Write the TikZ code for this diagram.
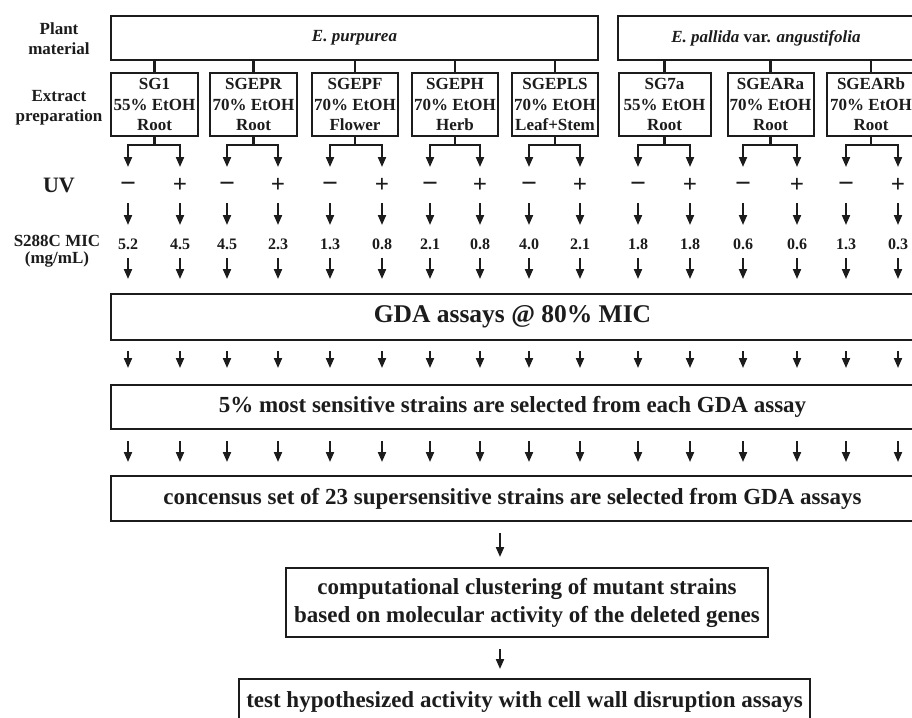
\documentclass[tikz,border=0pt]{standalone}
\usepackage{fontspec}
\setmainfont{Liberation Serif}
\usetikzlibrary{arrows.meta}
\definecolor{ink}{RGB}{28,28,28}
\newcommand\uvminus{{\fontsize{28}{28}\selectfont −}}
\newcommand\uvplus{{\fontsize{25}{25}\selectfont +}}
\begin{document}
\begin{tikzpicture}[x=1pt,y=-1pt,
  every node/.style={text=ink},
  frame/.style={draw=ink,line width=2pt,inner sep=0pt},
  ln/.style={draw=ink,line width=2.1pt},
  arr/.style={draw=ink,line width=2pt,-{Triangle[length=10pt,width=8pt]}},
  lab/.style={font=\fontsize{17}{20}\selectfont\bfseries,align=center,inner sep=0pt},
  exbox/.style={frame,minimum height=63pt,font=\fontsize{17}{20.5}\selectfont\bfseries,align=center},
  plantbox/.style={frame,minimum height=44pt,font=\fontsize{17}{20}\selectfont\bfseries},
  widebox/.style={frame,minimum width=803pt,font=\fontsize{23}{28}\selectfont\bfseries,align=center},
  sign/.style={inner sep=0pt,anchor=base,font=\bfseries},
  micval/.style={inner sep=0pt,anchor=base,font=\fontsize{16}{16}\selectfont\bfseries},
]
\useasboundingbox (0,0) rectangle (912,717);
\fill[white] (0,0) rectangle (912,717);
\clip (0,0) rectangle (912,717);

% row labels
\node[lab] (plantlab) at (59,39) {Plant\\material};
\node[lab] (extlab) at (59,107.5) {Extract\\preparation};
\node[lab,font=\fontsize{22}{22}\selectfont\bfseries] (uvlab) at (59,185) {UV};
\node[lab,font=\fontsize{17}{16.5}\selectfont\bfseries] (miclab) at (57,251) {S288C MIC\\(mg/mL)};

% plant material boxes
\node[plantbox,minimum width=487pt] (pur) at (354.5,38) {\itshape E. purpurea};
\node[plantbox,minimum width=296pt] (pal) at (766,38) {\textit{E. pallida} var. \textit{angustifolia}};

% extract boxes
\foreach \n/\cx/\w/\lbl/\pct/\prt/\src in {
  1/154.5/87/SG1/55/Root/pur,
  2/253.5/87/SGEPR/70/Root/pur,
  3/355/86/SGEPF/70/Flower/pur,
  4/455/86/SGEPH/70/Herb/pur,
  5/555/86/SGEPLS/70/Leaf+Stem/pur,
  6/664.5/92/SG7a/55/Root/pal,
  7/770.5/86/SGEARa/70/Root/pal,
  8/871/88/SGEARb/70/Root/pal} {
  \node[exbox,minimum width=\w pt] (ex\n) at (\cx,104.5) {\lbl\\\pct\% EtOH\\\prt};
  \draw[ln] (ex\n.north) -- (ex\n.north |- \src.south);
}

% wide boxes
\node[widebox,minimum height=46pt,font=\fontsize{25.5}{28}\selectfont\bfseries] (gda) at (512.5,317) {GDA assays @ 80\% MIC};
\node[widebox,minimum height=44pt] (sel) at (512.5,407) {5\% most sensitive strains are selected from each GDA assay};
\node[widebox,minimum height=45pt] (cons) at (512.5,498.5) {concensus set of 23 supersensitive strains are selected from GDA assays};
\node[frame,minimum width=482pt,minimum height=69pt,align=center,font=\fontsize{23}{28}\selectfont\bfseries] (comp) at (527,602.5) {computational clustering of mutant strains\\based on molecular activity of the deleted genes};
\node[frame,minimum width=571pt,minimum height=46pt,font=\fontsize{23}{28}\selectfont\bfseries] (test) at (524.5,702) {test hypothesized activity with cell wall disruption assays};

% columns
\foreach \x/\s/\v [count=\i] in {128/\uvminus/5.2, 180/\uvplus/4.5, 227/\uvminus/4.5, 278/\uvplus/2.3, 330/\uvminus/1.3, 382/\uvplus/0.8, 430/\uvminus/2.1, 480/\uvplus/0.8, 529/\uvminus/4.0, 580/\uvplus/2.1, 638/\uvminus/1.8, 690/\uvplus/1.8, 743/\uvminus/0.6, 797/\uvplus/0.6, 846/\uvminus/1.3, 898/\uvplus/0.3} {
  \coordinate (t\i) at (\x,167);
  \node[sign] (s\i) at (\x,192) {\s};
  \coordinate (u\i) at (\x,203);
  \coordinate (w\i) at (\x,225);
  \draw[arr] (u\i) -- (w\i);
  \node[micval] (v\i) at (\x,249) {\v};
  \coordinate (g\i) at (\x,258);
  \draw[arr,shorten >=14pt] (g\i) -- (g\i |- gda.north);
  \draw[arr,shorten <=10pt,shorten >=16pt] (g\i |- gda.south) -- (g\i |- sel.north);
  \draw[arr,shorten <=11pt,shorten >=13pt] (g\i |- sel.south) -- (g\i |- cons.north);
}

% branches from extract boxes to UV columns
\foreach \n in {1,...,8} {
  \pgfmathtruncatemacro\Lc{2*\n-1}
  \pgfmathtruncatemacro\Rc{2*\n}
  \draw[ln] (ex\n.south) -- ++(0,8) coordinate (m\n);
  \draw[arr] (m\n) -| (t\Lc);
  \draw[arr] (m\n) -| (t\Rc);
}

% lower flow
\coordinate (mid) at (500,0);
\draw[arr,shorten <=11pt,shorten >=10pt] (cons.south -| mid) -- (comp.north -| mid);
\draw[arr,shorten <=11pt,shorten >=9pt] (comp.south -| mid) -- (test.north -| mid);
\end{tikzpicture}
\end{document}
